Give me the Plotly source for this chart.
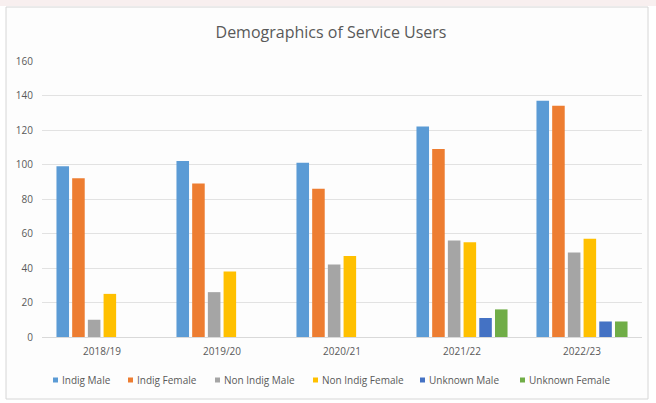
import plotly.graph_objects as go

# Financial years shown on the category axis
years = ["2018/19", "2019/20", "2020/21", "2021/22", "2022/23"]

# Service user counts per group
indig_male = [99, 102, 101, 122, 137]
indig_female = [92, 89, 86, 109, 134]
non_indig_male = [10, 26, 42, 56, 49]
non_indig_female = [25, 38, 47, 55, 57]
unknown_male = [0, 0, 0, 11, 9]
unknown_female = [0, 0, 0, 16, 9]

series_names = ["Indig Male", "Indig Female", "Non Indig Male",
                "Non Indig Female", "Unknown Male", "Unknown Female"]
series_values = [indig_male, indig_female, non_indig_male,
                 non_indig_female, unknown_male, unknown_female]
series_colors = ["#5B9BD5", "#ED7D31", "#A5A5A5", "#FFC000", "#4472C4", "#70AD47"]

y_ticks = [0, 20, 40, 60, 80, 100, 120, 140, 160]

FONT = "Open Sans, Liberation Sans, sans-serif"
TXT = "#595959"

W, H = 656, 403
L, R, T, B = 42, 14, 61, 66
pw, ph = W - L - R, H - T - B


def px_x(x):
    return (x - L) / pw


def px_y(y):
    return (H - B - y) / ph


fig = go.Figure()
for name, vals, color in zip(series_names, series_values, series_colors):
    fig.add_trace(go.Bar(x=years, y=vals, name=name, showlegend=False,
                         marker=dict(color=color, line=dict(width=0))))

# Compact legend row underneath the axis: small colour swatch + label
legend_left = [53, 128, 215, 313, 420, 520]
legend_y = 380
shapes = [
    # faint tinted strip above the chart box
    dict(type="rect", xref="paper", yref="paper",
         x0=px_x(0), x1=px_x(W), y0=px_y(0), y1=px_y(6),
         fillcolor="#f8efef", line=dict(width=0), layer="below"),
    # chart box outline
    dict(type="rect", xref="paper", yref="paper",
         x0=px_x(6), x1=px_x(648), y0=px_y(399), y1=px_y(7),
         fillcolor="#fdfdfd", line=dict(color="#d6d6d6", width=1), layer="below"),
]
annotations = []
for xl, name, color in zip(legend_left, series_names, series_colors):
    shapes.append(dict(type="rect", xref="paper", yref="paper",
                       x0=px_x(xl), x1=px_x(xl + 5),
                       y0=px_y(legend_y + 2.5), y1=px_y(legend_y - 2.5),
                       fillcolor=color, line=dict(width=0)))
    annotations.append(dict(text=name, xref="paper", yref="paper",
                            x=px_x(xl + 7), y=px_y(legend_y),
                            xanchor="left", yanchor="middle", showarrow=False,
                            font=dict(family=FONT, size=10, color=TXT)))

fig.update_layout(
    width=W,
    height=H,
    margin=dict(l=L, r=R, t=T, b=B, pad=0),
    paper_bgcolor="#ffffff",
    plot_bgcolor="rgba(0,0,0,0)",
    barmode="group",
    bargap=0.215,
    bargroupgap=0.2,
    showlegend=False,
    font=dict(family=FONT, color=TXT, size=10),
    title=dict(
        text="Demographics of Service Users",
        x=px_x(331), xref="paper", xanchor="center",
        y=1 - 32 / H, yref="container", yanchor="middle",
        font=dict(family=FONT, size=16, color=TXT),
    ),
    xaxis=dict(
        showgrid=False,
        showline=True,
        linecolor="#d9d9d9",
        linewidth=1,
        ticks="",
        tickfont=dict(size=10, color=TXT),
        ticklabelstandoff=5,
    ),
    yaxis=dict(
        range=[0, 160],
        tickvals=y_ticks,
        showgrid=True,
        gridcolor="#e2e2e2",
        gridwidth=1,
        zeroline=False,
        showline=False,
        ticks="",
        tickfont=dict(size=10, color=TXT),
        ticklabelstandoff=8,
    ),
    shapes=shapes,
    annotations=annotations,
)

fig.write_html("out.html")
